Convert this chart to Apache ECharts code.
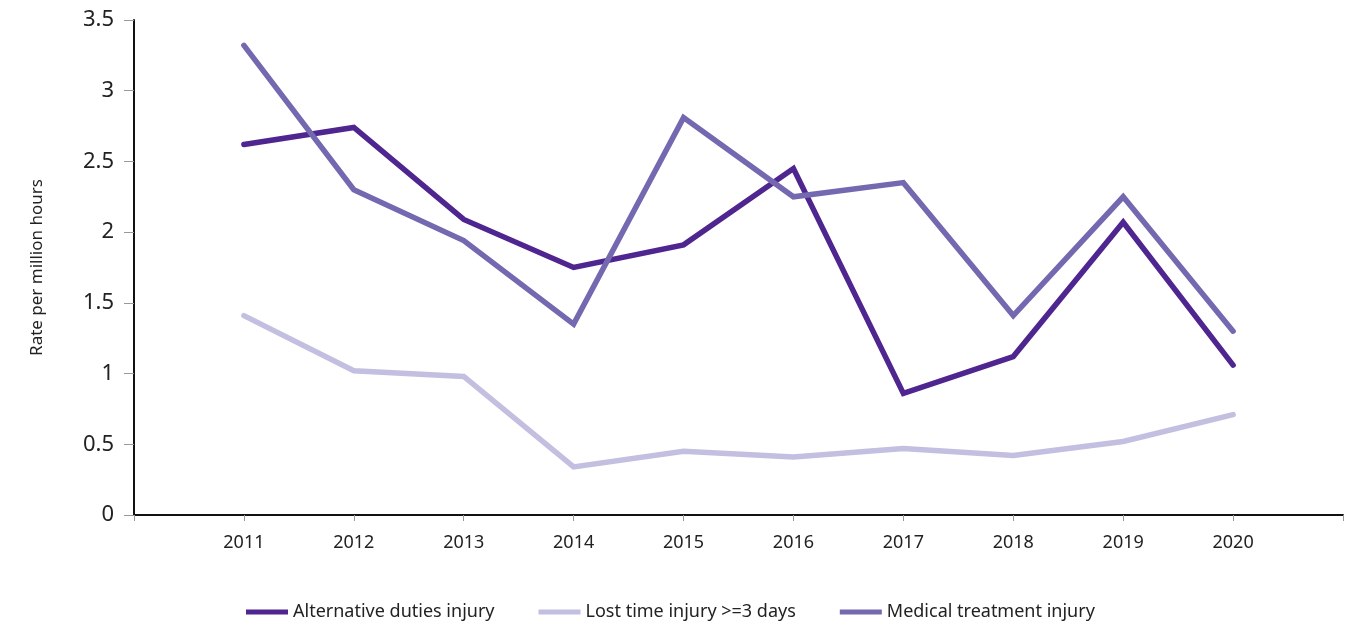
<!DOCTYPE html>
<html>
<head>
<meta charset="utf-8">
<script src="https://cdn.jsdelivr.net/npm/echarts@6/dist/echarts.min.js"></script>
<style>
  html, body { margin: 0; padding: 0; background: #fff; }
  #chart { width: 1364px; height: 626px; }
</style>
</head>
<body>
<div id="chart"></div>
<script>
const years = [2011, 2012, 2013, 2014, 2015, 2016, 2017, 2018, 2019, 2020]
const alternativeDuties = [2.62, 2.74, 2.09, 1.75, 1.91, 2.45, 0.86, 1.12, 2.07, 1.06]
const lostTime = [1.41, 1.02, 0.98, 0.34, 0.45, 0.41, 0.47, 0.42, 0.52, 0.71]
const medicalTreatment = [3.32, 2.30, 1.94, 1.35, 2.81, 2.25, 2.35, 1.41, 2.25, 1.30]

const seriesNames = ['Alternative duties injury', 'Lost time injury >=3 days', 'Medical treatment injury']
const colors = ['#4f2590', '#c2bfe1', '#7468b0']

const font = 'Noto Sans'

function pairs(vals) {
  return years.map((y, i) => [y, vals[i]])
}

const chart = echarts.init(document.getElementById('chart'))

chart.setOption({
  animation: false,
  textStyle: { fontFamily: font },
  grid: { left: 134, right: 21, top: 20, bottom: 111 },
  legend: {
    bottom: 0,
    left: 241,
    icon: 'rect',
    itemWidth: 42,
    itemHeight: 5,
    itemGap: 44,
    textStyle: { color: '#222', fontSize: 18, fontFamily: font },
    data: seriesNames
  },
  xAxis: {
    type: 'value',
    min: 2010,
    max: 2021,
    interval: 1,
    splitLine: { show: false },
    axisLine: { lineStyle: { color: '#111', width: 2 } },
    axisTick: { show: true, length: 6, lineStyle: { color: '#999' } },
    axisLabel: {
      color: '#222',
      fontSize: 18,
      margin: 19,
      formatter: v => (v >= 2011 && v <= 2020) ? String(v) : ''
    }
  },
  yAxis: {
    type: 'value',
    min: 0,
    max: 3.5,
    interval: 0.5,
    name: 'Rate per million hours',
    nameLocation: 'middle',
    nameGap: 88,
    nameTextStyle: { color: '#222', fontSize: 17, fontFamily: font },
    splitLine: { show: false },
    axisLine: { show: true, lineStyle: { color: '#111', width: 2 } },
    axisTick: { show: true, length: 10, lineStyle: { color: '#999' } },
    axisLabel: { color: '#222', fontSize: 22, margin: 20 }
  },
  series: [
    { name: seriesNames[0], data: pairs(alternativeDuties) },
    { name: seriesNames[1], data: pairs(lostTime) },
    { name: seriesNames[2], data: pairs(medicalTreatment) }
  ].map((s, i) => ({
    ...s,
    type: 'line',
    symbol: 'none',
    color: colors[i],
    lineStyle: { width: 5.5, color: colors[i], cap: 'round', join: 'miter' }
  }))
})
</script>
</body>
</html>
